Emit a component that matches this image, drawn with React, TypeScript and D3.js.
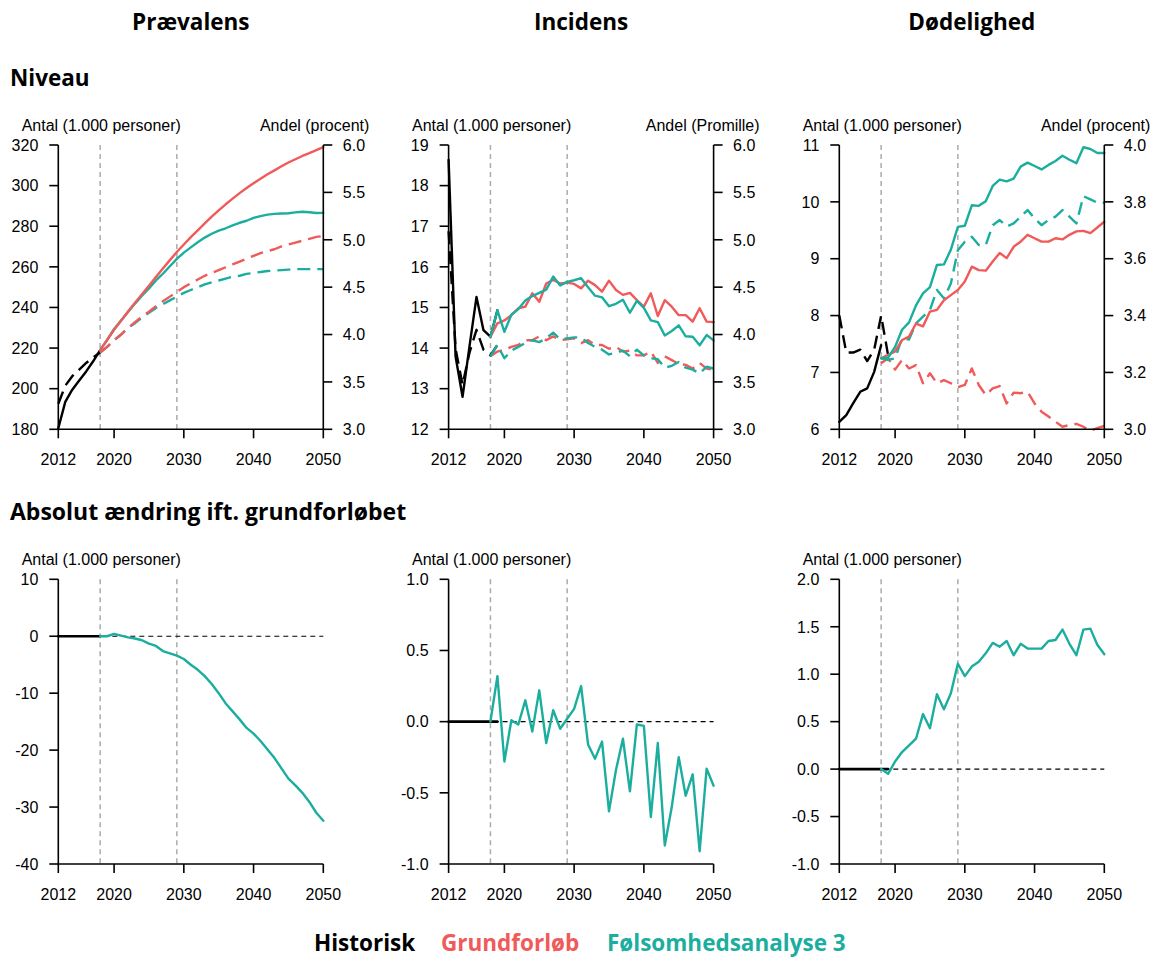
import React from "react";
import * as d3 from "d3";

type Pt = [number, number];

// ---- Colours -------------------------------------------------------------
const RED = "#F05A5A";
const TEAL = "#1BAE9F";
const BLACK = "#000000";
const REF_GREY = "#ABABAB";

// ---- Shared axis data ----------------------------------------------------
const xTicks = [2012, 2020, 2030, 2040, 2050];
const refYears = [2018, 2029];
const projYears = d3.range(2018, 2051);
const histYearsTo2018 = [2012, 2013, 2014, 2015, 2016, 2017, 2018];
const histYearsTo2019 = [2012, 2013, 2014, 2015, 2016, 2017, 2018, 2019];

// ---- Prævalens -------------------------------------------------------------
const prevHistCount = [180.5, 193.5, 199.5, 204, 208.5, 213.5, 219];
const prevHistShare = [3.27, 3.46, 3.56, 3.63, 3.7, 3.76, 3.81];
const prevBaseCount = [
  219, 224, 229, 233.5, 238, 242.3, 246.5, 250.7, 255, 259.2, 263.3, 267.3, 271, 274.6, 278, 281.4,
  284.7, 287.8, 290.8, 293.6, 296.3, 298.8, 301.2, 303.4, 305.6, 307.5, 309.5, 311.4, 313, 314.6,
  316, 317.5, 319,
];
const prevSensCount = [
  219, 224, 229.4, 233.6, 237.8, 241.9, 245.8, 249.4, 253.3, 256.6, 260.3, 263.9, 267.0, 269.6,
  272.1, 274.4, 276.3, 277.8, 279.0, 280.4, 281.7, 282.7, 284.1, 285.0, 285.7, 286.1, 286.3, 286.4,
  286.8, 287.1, 286.9, 286.5, 286.6,
];
const prevBaseShare = [
  3.81, 3.87, 3.94, 4.0, 4.07, 4.13, 4.19, 4.24, 4.3, 4.35, 4.4, 4.45, 4.5, 4.54, 4.58, 4.62, 4.65,
  4.68, 4.71, 4.74, 4.77, 4.8, 4.83, 4.86, 4.88, 4.9, 4.93, 4.95, 4.97, 4.99, 5.01, 5.03, 5.04,
];
const prevSensShare = [
  3.81, 3.87, 3.94, 4.0, 4.07, 4.12, 4.18, 4.23, 4.28, 4.32, 4.36, 4.4, 4.44, 4.47, 4.5, 4.53,
  4.55, 4.57, 4.59, 4.61, 4.62, 4.64, 4.65, 4.66, 4.67, 4.675, 4.68, 4.685, 4.69, 4.69, 4.69, 4.69,
  4.69,
];
const prevDiff = [
  0, 0, 0.4, 0.1, -0.2, -0.4, -0.7, -1.3, -1.7, -2.6, -3.0, -3.4, -4.0, -5.0, -5.9, -7.0, -8.4,
  -10.0, -11.8, -13.2, -14.6, -16.1, -17.1, -18.4, -19.9, -21.4, -23.2, -25.0, -26.2, -27.5, -29.1,
  -31.0, -32.4,
];
const prevHistDiff = [0, 0, 0, 0, 0, 0, 0];

// ---- Incidens --------------------------------------------------------------
const incHistCount = [18.63, 13.79, 12.8, 14.05, 15.26, 14.44, 14.28, 14.93];
const incHistShare = [5.09, 3.85, 3.47, 3.81, 4.05, 3.84, 3.78, 3.89];
const incBaseCount = [
  14.28, 14.61, 14.68, 14.81, 14.98, 15.02, 15.35, 15.14, 15.59, 15.68, 15.59, 15.61, 15.58, 15.47,
  15.66, 15.55, 15.39, 15.66, 15.43, 15.31, 15.36, 15.18, 15.02, 15.35, 14.79, 15.18, 15.02, 14.81,
  14.81, 14.65, 14.98, 14.65, 14.64,
];
const incSensCount = [
  14.28, 14.93, 14.4, 14.82, 14.96, 15.17, 15.28, 15.36, 15.44, 15.76, 15.54, 15.63, 15.67, 15.72,
  15.5, 15.29, 15.25, 15.03, 15.09, 15.19, 14.87, 15.16, 14.99, 14.68, 14.64, 14.31, 14.42, 14.56,
  14.29, 14.28, 14.07, 14.32, 14.19,
];
const incBaseShare = [
  3.77, 3.82, 3.84, 3.87, 3.89, 3.94, 3.94, 3.98, 3.94, 3.98, 3.94, 3.95, 3.96, 3.91, 3.94, 3.89,
  3.89, 3.85, 3.87, 3.82, 3.83, 3.78, 3.78, 3.82, 3.7, 3.77, 3.73, 3.69, 3.68, 3.64, 3.7, 3.64, 3.63,
];
const incSensShare = [
  3.77, 3.89, 3.75, 3.83, 3.87, 3.91, 3.94, 3.92, 3.96, 4.02, 3.95, 3.96, 3.97, 3.97, 3.91, 3.87,
  3.84, 3.79, 3.81, 3.83, 3.77, 3.84, 3.78, 3.75, 3.74, 3.65, 3.67, 3.71, 3.65, 3.63, 3.59, 3.66,
  3.64,
];
const incDiff = [
  0, 0.32, -0.28, 0.01, -0.02, 0.15, -0.07, 0.22, -0.15, 0.08, -0.05, 0.02, 0.09, 0.25, -0.16,
  -0.26, -0.14, -0.63, -0.34, -0.12, -0.49, -0.02, -0.03, -0.67, -0.15, -0.87, -0.6, -0.25, -0.52,
  -0.37, -0.91, -0.33, -0.45,
];
const incHistDiff = [0, 0, 0, 0, 0, 0, 0, 0];

// ---- Dødelighed ------------------------------------------------------------
const mortHistCount = [6.13, 6.25, 6.46, 6.66, 6.72, 7.01, 7.48];
const mortHistShare = [3.4, 3.27, 3.27, 3.28, 3.24, 3.28, 3.4, 3.26];
const mortBaseCount = [
  7.25, 7.31, 7.37, 7.57, 7.63, 7.86, 7.81, 8.07, 8.1, 8.27, 8.36, 8.45, 8.6, 8.86, 8.8, 8.79, 8.95,
  9.1, 9.01, 9.21, 9.3, 9.42, 9.36, 9.3, 9.3, 9.36, 9.34, 9.42, 9.48, 9.49, 9.45, 9.55, 9.65,
];
const mortSensCount = [
  7.25, 7.26, 7.45, 7.75, 7.88, 8.18, 8.39, 8.5, 8.89, 8.9, 9.16, 9.56, 9.58, 9.94, 9.93, 10.01,
  10.28, 10.39, 10.36, 10.41, 10.62, 10.69, 10.63, 10.57, 10.65, 10.72, 10.81, 10.74, 10.68, 10.96,
  10.93, 10.86, 10.86,
];
const mortBaseShare = [
  3.232, 3.25, 3.21, 3.244, 3.214, 3.226, 3.162, 3.197, 3.162, 3.173, 3.162, 3.148, 3.156, 3.214,
  3.156, 3.121, 3.144, 3.152, 3.091, 3.129, 3.127, 3.132, 3.091, 3.062, 3.045, 3.027, 3.009, 3.015,
  3.019, 3.009, 2.995, 3.004, 3.012,
];
const mortSensShare = [
  3.25, 3.244, 3.25, 3.32, 3.316, 3.373, 3.396, 3.42, 3.49, 3.461, 3.513, 3.63, 3.66, 3.677, 3.648,
  3.648, 3.718, 3.736, 3.713, 3.724, 3.748, 3.771, 3.742, 3.718, 3.736, 3.748, 3.771, 3.748, 3.724,
  3.82, 3.809, 3.797, 3.797,
];
const mortDiff = [
  0, -0.05, 0.08, 0.18, 0.25, 0.32, 0.58, 0.43, 0.79, 0.63, 0.8, 1.11, 0.98, 1.08, 1.13, 1.22, 1.33,
  1.29, 1.35, 1.2, 1.32, 1.27, 1.27, 1.27, 1.35, 1.36, 1.47, 1.32, 1.2, 1.47, 1.48, 1.31, 1.21,
];
const mortHistDiff = [0, 0, 0, 0, 0, 0, 0, 0];

// ---- Text ------------------------------------------------------------------
const columnTitles = ["Prævalens", "Incidens", "Dødelighed"];
const rowTitles = ["Niveau", "Absolut ændring ift. grundforløbet"];
const legendItems = [
  { label: "Historisk", color: BLACK },
  { label: "Grundforløb", color: RED },
  { label: "Følsomhedsanalyse 3", color: TEAL },
];

// ---- Layout ----------------------------------------------------------------
const W = 1153;
const H = 959;
const PANEL_X = [58.3, 448.6, 839.3];
const PLOT_W = 265;
const ROW_Y: [number, number][] = [
  [145, 429.3],
  [579.3, 864],
];
const TICK_FONT = "'Liberation Sans', Arial, sans-serif";
const TITLE_FONT = "'Open Sans', 'Noto Sans', sans-serif";

interface Series {
  years: number[];
  values: number[];
  axis: "left" | "right";
  color: string;
  dashed?: boolean;
  width?: number;
}

interface PanelSpec {
  col: number;
  row: number;
  leftDomain: [number, number];
  leftTicks: number[];
  leftDigits: number;
  leftTitle: string;
  rightDomain?: [number, number];
  rightTicks?: number[];
  rightTitle?: string;
  zeroLine?: boolean;
  series: Series[];
}

const fmt = (digits: number) => (v: number) => v.toFixed(digits);

function Panel({ spec }: { spec: PanelSpec }) {
  const x0 = PANEL_X[spec.col];
  const x1 = x0 + PLOT_W;
  const [yTop, yBot] = ROW_Y[spec.row];
  const x = d3.scaleLinear().domain([2012, 2050]).range([x0, x1]);
  const yL = d3.scaleLinear().domain(spec.leftDomain).range([yBot, yTop]);
  const yR = spec.rightDomain
    ? d3.scaleLinear().domain(spec.rightDomain).range([yBot, yTop])
    : null;
  const tick = 9;
  const lf = fmt(spec.leftDigits);

  const path = (s: Series) => {
    const scale = s.axis === "left" ? yL : (yR as d3.ScaleLinear<number, number>);
    const gen = d3
      .line<Pt>()
      .x((d) => x(d[0]))
      .y((d) => scale(d[1]));
    return gen(d3.zip(s.years, s.values) as Pt[]) || "";
  };

  return (
    <g>
      {/* reference years */}
      {refYears.map((yr) => (
        <line
          key={yr}
          x1={x(yr)}
          x2={x(yr)}
          y1={yTop}
          y2={yBot}
          stroke={REF_GREY}
          strokeWidth={1.5}
          strokeDasharray="5,4"
        />
      ))}
      {spec.zeroLine && (
        <line
          x1={x(2012)}
          x2={x(2050)}
          y1={yL(0)}
          y2={yL(0)}
          stroke={BLACK}
          strokeWidth={1.1}
          strokeDasharray="5,4"
        />
      )}
      {spec.series.map((s, i) => (
        <path
          key={i}
          d={path(s)}
          fill="none"
          stroke={s.color}
          strokeWidth={s.width ?? 2.4}
          strokeDasharray={s.dashed ? "13,7" : undefined}
          strokeLinejoin="round"
          strokeLinecap={s.dashed ? "butt" : "round"}
        />
      ))}

      {/* left axis */}
      <line x1={x0} x2={x0} y1={yTop} y2={yBot} stroke={BLACK} strokeWidth={1.6} />
      {spec.leftTicks.map((t) => (
        <g key={"l" + t}>
          <line x1={x0 - tick} x2={x0} y1={yL(t)} y2={yL(t)} stroke={BLACK} strokeWidth={1.6} />
          <text
            x={x0 - 20}
            y={yL(t)}
            dy="0.36em"
            textAnchor="end"
            fontFamily={TICK_FONT}
            fontSize={16}
          >
            {lf(t)}
          </text>
        </g>
      ))}
      <text x={x0 - 36.6} y={yTop - 14} fontFamily={TICK_FONT} fontSize={16}>
        {spec.leftTitle}
      </text>

      {/* right axis */}
      {yR && spec.rightTicks && (
        <g>
          <line x1={x1} x2={x1} y1={yTop} y2={yBot} stroke={BLACK} strokeWidth={1.6} />
          {spec.rightTicks.map((t) => (
            <g key={"r" + t}>
              <line x1={x1} x2={x1 + tick} y1={yR(t)} y2={yR(t)} stroke={BLACK} strokeWidth={1.6} />
              <text
                x={x1 + 19.5}
                y={yR(t)}
                dy="0.36em"
                textAnchor="start"
                fontFamily={TICK_FONT}
                fontSize={16}
              >
                {t.toFixed(1)}
              </text>
            </g>
          ))}
          <text
            x={x1 + 46}
            y={yTop - 14}
            textAnchor="end"
            fontFamily={TICK_FONT}
            fontSize={16}
          >
            {spec.rightTitle}
          </text>
        </g>
      )}

      {/* bottom axis */}
      <line x1={x0} x2={x1} y1={yBot} y2={yBot} stroke={BLACK} strokeWidth={1.6} />
      {xTicks.map((t) => (
        <g key={"x" + t}>
          <line x1={x(t)} x2={x(t)} y1={yBot} y2={yBot + 9} stroke={BLACK} strokeWidth={1.6} />
          <text
            x={x(t)}
            y={yBot + 35.5}
            textAnchor="middle"
            fontFamily={TICK_FONT}
            fontSize={16}
          >
            {t}
          </text>
        </g>
      ))}
    </g>
  );
}

const antal = "Antal (1.000 personer)";

const panels: PanelSpec[] = [
  {
    col: 0,
    row: 0,
    leftDomain: [180, 320],
    leftTicks: [180, 200, 220, 240, 260, 280, 300, 320],
    leftDigits: 0,
    leftTitle: antal,
    rightDomain: [3, 6],
    rightTicks: [3, 3.5, 4, 4.5, 5, 5.5, 6],
    rightTitle: "Andel (procent)",
    series: [
      { years: histYearsTo2018, values: prevHistShare, axis: "right", color: BLACK, dashed: true },
      { years: histYearsTo2018, values: prevHistCount, axis: "left", color: BLACK },
      { years: projYears, values: prevSensShare, axis: "right", color: TEAL, dashed: true },
      { years: projYears, values: prevBaseShare, axis: "right", color: RED, dashed: true },
      { years: projYears, values: prevSensCount, axis: "left", color: TEAL },
      { years: projYears, values: prevBaseCount, axis: "left", color: RED },
    ],
  },
  {
    col: 1,
    row: 0,
    leftDomain: [12, 19],
    leftTicks: [12, 13, 14, 15, 16, 17, 18, 19],
    leftDigits: 0,
    leftTitle: antal,
    rightDomain: [3, 6],
    rightTicks: [3, 3.5, 4, 4.5, 5, 5.5, 6],
    rightTitle: "Andel (Promille)",
    series: [
      { years: histYearsTo2019, values: incHistCount, axis: "left", color: BLACK },
      { years: histYearsTo2019, values: incHistShare, axis: "right", color: BLACK, dashed: true },
      { years: projYears, values: incBaseShare, axis: "right", color: RED, dashed: true },
      { years: projYears, values: incSensShare, axis: "right", color: TEAL, dashed: true },
      { years: projYears, values: incBaseCount, axis: "left", color: RED },
      { years: projYears, values: incSensCount, axis: "left", color: TEAL },
    ],
  },
  {
    col: 2,
    row: 0,
    leftDomain: [6, 11],
    leftTicks: [6, 7, 8, 9, 10, 11],
    leftDigits: 0,
    leftTitle: antal,
    rightDomain: [3, 4],
    rightTicks: [3, 3.2, 3.4, 3.6, 3.8, 4],
    rightTitle: "Andel (procent)",
    series: [
      { years: histYearsTo2019, values: mortHistShare, axis: "right", color: BLACK, dashed: true },
      { years: histYearsTo2018, values: mortHistCount, axis: "left", color: BLACK },
      { years: projYears, values: mortBaseShare, axis: "right", color: RED, dashed: true },
      { years: projYears, values: mortSensShare, axis: "right", color: TEAL, dashed: true },
      { years: projYears, values: mortBaseCount, axis: "left", color: RED },
      { years: projYears, values: mortSensCount, axis: "left", color: TEAL },
    ],
  },
  {
    col: 0,
    row: 1,
    leftDomain: [-40, 10],
    leftTicks: [-40, -30, -20, -10, 0, 10],
    leftDigits: 0,
    leftTitle: antal,
    zeroLine: true,
    series: [
      { years: histYearsTo2018, values: prevHistDiff, axis: "left", color: BLACK, width: 2.6 },
      { years: projYears, values: prevDiff, axis: "left", color: TEAL },
    ],
  },
  {
    col: 1,
    row: 1,
    leftDomain: [-1, 1],
    leftTicks: [-1, -0.5, 0, 0.5, 1],
    leftDigits: 1,
    leftTitle: antal,
    zeroLine: true,
    series: [
      { years: histYearsTo2019, values: incHistDiff, axis: "left", color: BLACK, width: 2.6 },
      { years: projYears, values: incDiff, axis: "left", color: TEAL },
    ],
  },
  {
    col: 2,
    row: 1,
    leftDomain: [-1, 2],
    leftTicks: [-1, -0.5, 0, 0.5, 1, 1.5, 2],
    leftDigits: 1,
    leftTitle: antal,
    zeroLine: true,
    series: [
      { years: histYearsTo2019, values: mortHistDiff, axis: "left", color: BLACK, width: 2.6 },
      { years: projYears, values: mortDiff, axis: "left", color: TEAL },
    ],
  },
];

export default function App() {
  const legendX = [314, 441, 607];
  return (
    <svg
      width={W}
      height={H}
      viewBox={`0 0 ${W} ${H}`}
      style={{ position: "absolute", left: 0, top: 0, background: "#fff" }}
    >
      <rect width={W} height={H} fill="#fff" />
      {columnTitles.map((t, i) => (
        <text
          key={t}
          x={PANEL_X[i] + PLOT_W / 2}
          y={30}
          textAnchor="middle"
          fontFamily={TITLE_FONT}
          fontWeight={700}
          fontSize={22.5}
        >
          {t}
        </text>
      ))}
      <text x={10} y={86} fontFamily={TITLE_FONT} fontWeight={700} fontSize={22.5}>
        {rowTitles[0]}
      </text>
      <text x={10} y={520} fontFamily={TITLE_FONT} fontWeight={700} fontSize={23}>
        {rowTitles[1]}
      </text>

      {panels.map((p, i) => (
        <Panel key={i} spec={p} />
      ))}

      {legendItems.map((it, i) => (
        <text
          key={it.label}
          x={legendX[i]}
          y={951}
          fill={it.color}
          fontFamily={TITLE_FONT}
          fontWeight={700}
          fontSize={22.5}
        >
          {it.label}
        </text>
      ))}
    </svg>
  );
}
